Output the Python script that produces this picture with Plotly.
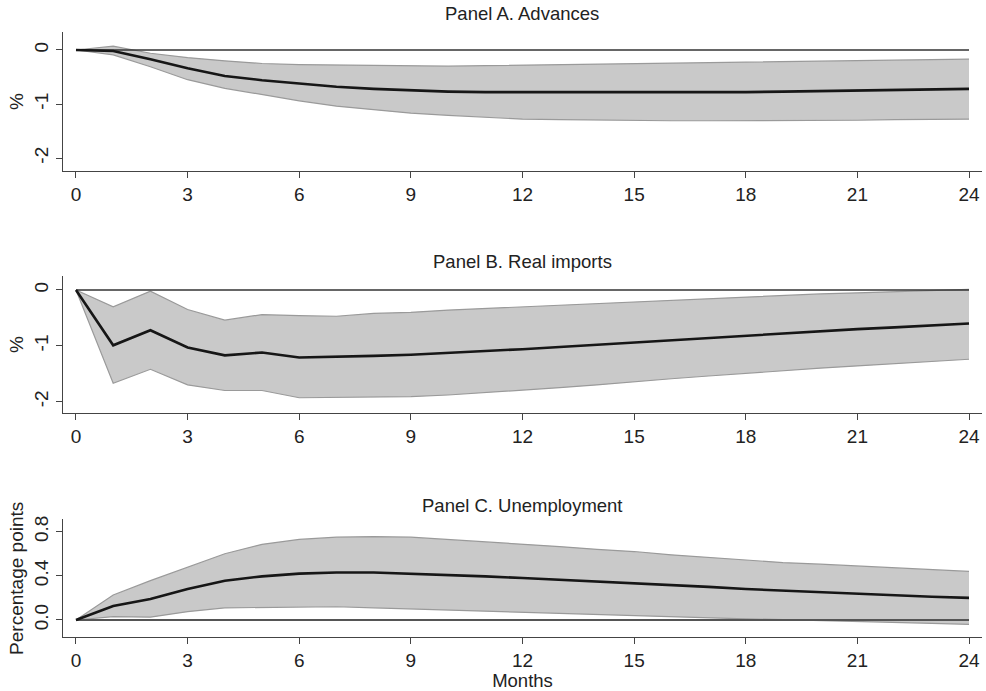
import plotly.graph_objects as go

# Horizon in months
months = list(range(0, 25))

# Panel A: Advances (%)
adv_mean = [0.0, -0.02, -0.17, -0.34, -0.48, -0.56, -0.62, -0.68, -0.72, -0.75, -0.77, -0.78, -0.78,
            -0.79, -0.79, -0.79, -0.79, -0.78, -0.78, -0.77, -0.76, -0.75, -0.74, -0.73, -0.72]
adv_upper = [0.0, 0.07, -0.06, -0.14, -0.20, -0.25, -0.27, -0.28, -0.29, -0.30, -0.30, -0.29, -0.28,
             -0.27, -0.26, -0.25, -0.24, -0.23, -0.22, -0.21, -0.21, -0.20, -0.19, -0.18, -0.17]
adv_lower = [0.0, -0.09, -0.31, -0.55, -0.71, -0.83, -0.94, -1.04, -1.11, -1.17, -1.21, -1.25, -1.28,
             -1.29, -1.30, -1.31, -1.31, -1.31, -1.31, -1.31, -1.30, -1.30, -1.29, -1.29, -1.28]

# Panel B: Real imports (%)
imp_mean = [0.0, -0.99, -0.72, -1.03, -1.17, -1.12, -1.21, -1.20, -1.18, -1.16, -1.13, -1.10, -1.06,
            -1.02, -0.98, -0.94, -0.90, -0.85, -0.81, -0.77, -0.74, -0.70, -0.67, -0.63, -0.60]
imp_upper = [0.0, -0.30, -0.02, -0.35, -0.54, -0.44, -0.46, -0.47, -0.42, -0.40, -0.36, -0.33, -0.30,
             -0.27, -0.24, -0.21, -0.18, -0.15, -0.12, -0.10, -0.07, -0.05, -0.03, -0.01, 0.01]
imp_lower = [0.0, -1.67, -1.42, -1.70, -1.80, -1.80, -1.93, -1.92, -1.92, -1.91, -1.88, -1.84, -1.80,
             -1.75, -1.70, -1.64, -1.59, -1.54, -1.49, -1.45, -1.40, -1.36, -1.32, -1.28, -1.24]

# Panel C: Unemployment (percentage points)
une_mean = [0.0, 0.127, 0.19, 0.28, 0.356, 0.395, 0.42, 0.43, 0.43, 0.42, 0.41, 0.395, 0.38,
            0.365, 0.35, 0.33, 0.315, 0.30, 0.28, 0.265, 0.25, 0.24, 0.225, 0.21, 0.20]
une_upper = [0.0, 0.226, 0.356, 0.48, 0.60, 0.685, 0.73, 0.75, 0.755, 0.75, 0.73, 0.71, 0.685,
             0.665, 0.64, 0.62, 0.59, 0.565, 0.54, 0.52, 0.505, 0.49, 0.47, 0.455, 0.44]
une_lower = [0.0, 0.03, 0.025, 0.075, 0.11, 0.115, 0.12, 0.12, 0.11, 0.10, 0.09, 0.08, 0.07,
             0.058, 0.047, 0.036, 0.027, 0.018, 0.01, 0.003, -0.004, -0.01, -0.02, -0.03, -0.04]

panel_titles = ["Panel A. Advances", "Panel B. Real imports", "Panel C. Unemployment"]
y_titles = ["%", "%", "Percentage points"]
x_ticks = list(range(0, 25, 3))

panels = [
    dict(mean=adv_mean, upper=adv_upper, lower=adv_lower,
         domain=[0.7525, 0.9537], yrange=[-2.24, 0.333],
         ytickvals=[0, -1, -2], yticktext=["0", "-1", "-2"], title_y=0.981),
    dict(mean=imp_mean, upper=imp_upper, lower=imp_lower,
         domain=[0.4019, 0.6006], yrange=[-2.208, 0.251],
         ytickvals=[0, -1, -2], yticktext=["0", "-1", "-2"], title_y=0.621),
    dict(mean=une_mean, upper=une_upper, lower=une_lower,
         domain=[0.0777, 0.2485], yrange=[-0.157, 0.912],
         ytickvals=[0.0, 0.4, 0.8], yticktext=["0.0", "0.4", "0.8"], title_y=0.269),
]

FONT = "Liberation Sans, Arial, Helvetica, sans-serif"
TEXT = "#222222"
BAND_FILL = "#c9c9c9"
BAND_EDGE = "#9a9a9a"

fig = go.Figure()
x_domain = [63 / 986, 982 / 986]
x_range = [-0.349, 24.349]

for i, p in enumerate(panels):
    n = "" if i == 0 else str(i + 1)
    xa, ya = "x" + n, "y" + n
    # confidence band
    fig.add_trace(go.Scatter(x=months, y=p["upper"], mode="lines",
                             line=dict(color=BAND_EDGE, width=1.2),
                             xaxis=xa, yaxis=ya, showlegend=False, hoverinfo="skip"))
    fig.add_trace(go.Scatter(x=months, y=p["lower"], mode="lines",
                             line=dict(color=BAND_EDGE, width=1.2),
                             fill="tonexty", fillcolor=BAND_FILL,
                             xaxis=xa, yaxis=ya, showlegend=False, hoverinfo="skip"))
    # zero reference line
    fig.add_trace(go.Scatter(x=[months[0], months[-1]], y=[0, 0], mode="lines",
                             line=dict(color="#333333" if i < 2 else "#555555",
                                       width=1.3 if i < 2 else 2),
                             xaxis=xa, yaxis=ya, showlegend=False, hoverinfo="skip"))
    # point estimate
    fig.add_trace(go.Scatter(x=months, y=p["mean"], mode="lines",
                             line=dict(color="#161616", width=2.6),
                             xaxis=xa, yaxis=ya, showlegend=False))

    axis_common = dict(showline=True, linecolor="#444444", linewidth=1.3,
                       ticks="outside", ticklen=6, tickwidth=1.2, tickcolor="#444444",
                       showgrid=False, zeroline=False, automargin=False,
                       tickfont=dict(family=FONT, size=19, color=TEXT))
    xa_layout = dict(domain=x_domain, range=x_range, tickvals=x_ticks,
                     anchor=ya, **axis_common)
    if i == 2:
        xa_layout["title"] = dict(text="Months", standoff=0,
                                  font=dict(family=FONT, size=18.5, color=TEXT))
    ya_layout = dict(domain=p["domain"], range=p["yrange"], tickvals=p["ytickvals"],
                     ticktext=p["yticktext"], tickangle=-90, anchor=xa,
                     title=dict(text=y_titles[i], standoff=2,
                                font=dict(family=FONT, size=19, color=TEXT)),
                     **axis_common)
    fig.layout["xaxis" + n] = xa_layout
    fig.layout["yaxis" + n] = ya_layout

    fig.add_annotation(text=panel_titles[i], xref="paper", yref="paper",
                       x=522 / 986, y=p["title_y"], xanchor="center", yanchor="middle",
                       showarrow=False, font=dict(family=FONT, size=18.5, color=TEXT))

fig.update_layout(width=986, height=691,
                  margin=dict(l=0, r=0, t=0, b=0, autoexpand=False),
                  paper_bgcolor="white", plot_bgcolor="white",
                  font=dict(family=FONT, size=18, color=TEXT))

fig.write_html("out.html")
